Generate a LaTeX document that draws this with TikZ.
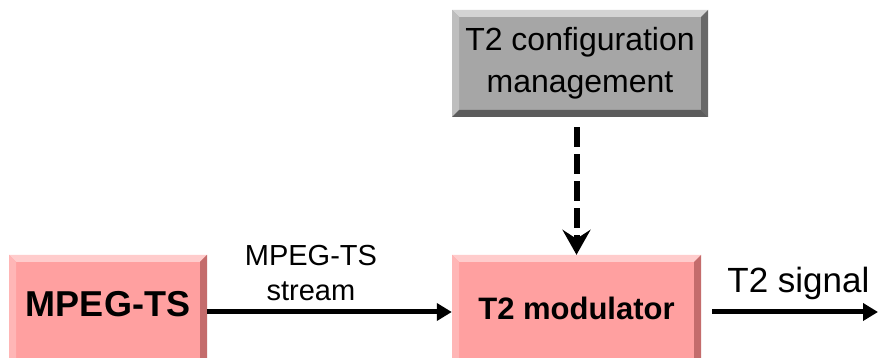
\documentclass[tikz,border=0pt]{standalone}
\usepackage{fontspec}
\setmainfont{Liberation Sans}
\usetikzlibrary{arrows.meta}
\definecolor{pinkface}{RGB}{255,160,160}
\definecolor{pinktop}{RGB}{255,204,204}
\definecolor{pinkleft}{RGB}{255,182,182}
\definecolor{pinkright}{RGB}{196,108,108}
\definecolor{pinkbottom}{RGB}{180,96,96}
\definecolor{grayface}{RGB}{166,166,166}
\definecolor{graytop}{RGB}{212,212,212}
\definecolor{grayleft}{RGB}{190,190,190}
\definecolor{grayright}{RGB}{104,104,104}
\definecolor{graybottom}{RGB}{92,92,92}
\tikzset{
  bevel/.style n args={5}{draw=none, fill=#1, inner sep=0pt,
    path picture={
      \coordinate (pa) at (path picture bounding box.south west);
      \coordinate (pb) at (path picture bounding box.north east);
      \coordinate (pc) at (path picture bounding box.north west);
      \coordinate (pd) at (path picture bounding box.south east);
      \fill[#2] (pc) -- (pb) -- ([shift={(-7pt,-7pt)}]pb) -- ([shift={(7pt,-7pt)}]pc) -- cycle;
      \fill[#3] (pc) -- ([shift={(7pt,-7pt)}]pc) -- ([shift={(7pt,7pt)}]pa) -- (pa) -- cycle;
      \fill[#4] (pb) -- (pd) -- ([shift={(-7pt,7pt)}]pd) -- ([shift={(-7pt,-7pt)}]pb) -- cycle;
      \fill[#5] (pa) -- (pd) -- ([shift={(-7pt,7pt)}]pd) -- ([shift={(7pt,7pt)}]pa) -- cycle;
    }},
  pinkbox/.style={bevel={pinkface}{pinktop}{pinkleft}{pinkright}{pinkbottom}},
  graybox/.style={bevel={grayface}{graytop}{grayleft}{grayright}{graybottom}},
  thickarrow/.style={line width=5pt, -{Triangle[length=15pt,width=17pt]}},
  dasharrow/.style={line width=6pt, dash pattern=on 20pt off 7pt, -{Stealth[length=25pt,width=28pt,inset=9pt]}},
  lbl/.style={inner sep=0pt, align=center}
}
\begin{document}
\begin{tikzpicture}[x=1pt,y=1pt]
\useasboundingbox (0,0) rectangle (878,358);
\clip (0,0) rectangle (878,358);
\fill[white] (0,0) rectangle (878,358);

\node[graybox, minimum width=256pt, minimum height=107pt, align=center,
      font=\fontsize{32}{42}\selectfont] (cfg) at (580,294.5) {T2 configuration\\management};
\node[pinkbox, minimum width=198pt, minimum height=114pt,
      font=\bfseries\fontsize{36}{42}\selectfont, text height=25pt, text depth=15pt] (mpeg) at (108,46) {MPEG-TS};
\node[pinkbox, minimum width=249pt, minimum height=114pt,
      font=\bfseries\fontsize{31}{38}\selectfont, text height=26pt, text depth=10pt] (mod) at (576.5,46) {T2 modulator};

\draw[thickarrow] (mpeg.east) -- node[lbl, pos=0.424, above=9pt, font=\fontsize{29}{35}\selectfont] (slbl) {MPEG-TS\\stream} (mod.west);

\coordinate (sigstart) at ([xshift=11pt]mod.east);
\coordinate (sigend) at (878,46);
\draw[thickarrow] (sigstart) -- node[lbl, pos=0.52, above=9.5pt, font=\fontsize{35}{42}\selectfont] (siglbl) {T2 signal} (sigend);

\coordinate (dstart) at ([yshift=-10pt]cfg.south -| mod.north);
\draw[dasharrow] (dstart) -- (mod.north);
\end{tikzpicture}
\end{document}
